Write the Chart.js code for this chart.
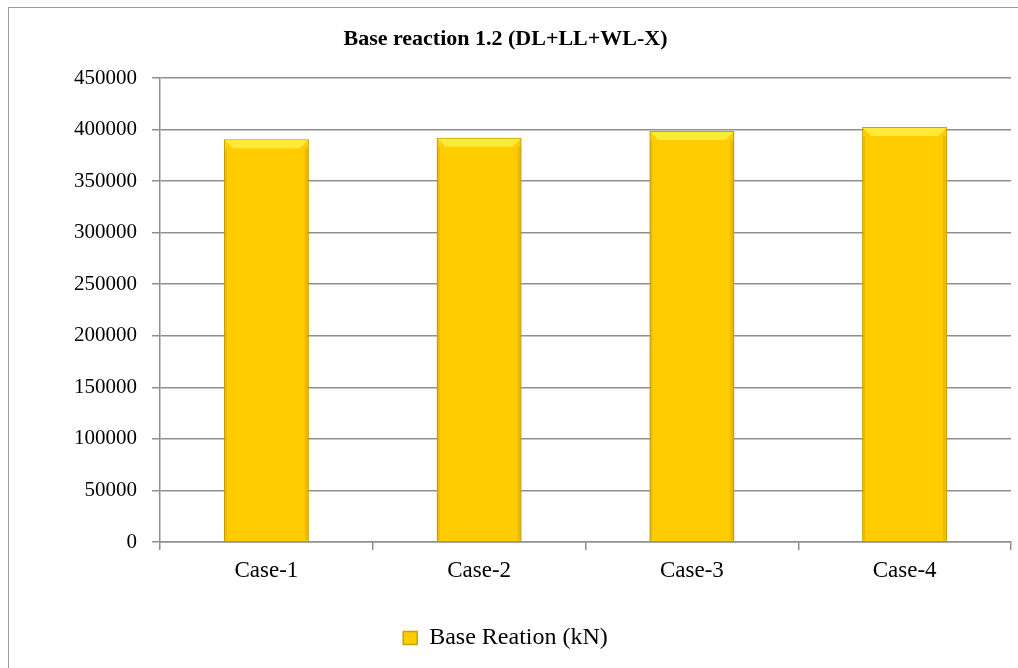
<!DOCTYPE html>
<html>
<head>
<meta charset="utf-8">
<script src="https://cdn.jsdelivr.net/npm/chart.js@4.4.0/dist/chart.umd.min.js"></script>
<style>
    html, body { margin: 0; padding: 0; background: #ffffff; }
    #wrap { position: relative; width: 1018px; height: 668px; overflow: hidden; }
    #frame {
        position: absolute; left: 8px; top: 7px;
        width: 1100px; height: 760px;
        border: 1.5px solid #9a9a9a;
    }
    #barChart { position: absolute; left: 0; top: 0; }
</style>
</head>
<body>
<div id="wrap">
    <div id="frame"></div>
    <canvas id="barChart" width="1018" height="668"></canvas>
</div>
<script>
// Chart data
const categories = ['Case-1', 'Case-2', 'Case-3', 'Case-4'];
const baseReaction = [390500, 392000, 398500, 402500];
const seriesLabel = 'Base Reation (kN)';
const chartTitle = 'Base reaction 1.2 (DL+LL+WL-X)';
const yTicks = [0, 50000, 100000, 150000, 200000, 250000, 300000, 350000, 400000, 450000];

const serif = "'Liberation Serif', 'Times New Roman', serif";
const gridGray = '#8f8f8f';

const ctx = document.getElementById('barChart');

// light bevel on top of each bar, drawn from the bar elements themselves
const bevelPlugin = {
    id: 'bevel',
    afterDatasetsDraw(chart) {
        const c = chart.ctx;
        chart.getDatasetMeta(0).data.forEach(bar => {
            const left = bar.x - bar.width / 2 + 1;
            const right = bar.x + bar.width / 2 - 1;
            const top = bar.y + 1;
            const d = 8;
            c.save();
            c.fillStyle = '#FFEA3A';
            c.beginPath();
            c.moveTo(left, top);
            c.lineTo(right, top);
            c.lineTo(right - d, top + d);
            c.lineTo(left + d, top + d);
            c.closePath();
            c.fill();
            c.fillStyle = 'rgba(170,130,0,0.25)';
            c.fillRect(right - 3, top + d, 3, bar.base - top - d - 1);
            c.fillRect(left, top + d, 2, bar.base - top - d - 1);
            c.restore();
        });
    }
};

new Chart(ctx, {
    type: 'bar',
    data: {
        labels: categories,
        datasets: [{
            label: seriesLabel,
            data: baseReaction,
            backgroundColor: '#FFCC00',
            borderColor: '#C9A200',
            borderWidth: 1.5,
            barPercentage: 0.4,
            categoryPercentage: 1
        }]
    },
    options: {
        responsive: false,
        animation: false,
        layout: { padding: { left: 0, right: 7, top: 0, bottom: 8 } },
        plugins: {
            title: {
                display: true,
                text: chartTitle,
                color: '#000',
                font: { family: serif, size: 22, weight: 'bold' },
                padding: { top: 26, bottom: 25.6 }
            },
            legend: {
                position: 'bottom',
                labels: {
                    color: '#000',
                    font: { family: serif, size: 24 },
                    boxWidth: 14,
                    boxHeight: 13,
                    padding: 10
                }
            },
            tooltip: { enabled: false }
        },
        scales: {
            y: {
                min: 0,
                max: 450000,
                afterFit: (scale) => { scale.width = 160; },
                afterBuildTicks: (scale) => { scale.ticks = yTicks.map(v => ({ value: v })); },
                border: { color: gridGray, width: 1.5 },
                grid: { color: gridGray, lineWidth: 1.5, tickLength: 8 },
                ticks: {
                    color: '#000',
                    padding: 15,
                    font: { family: serif, size: 21 },
                    callback: (v) => String(v)
                }
            },
            x: {
                afterFit: (scale) => { scale.height = 74; },
                border: { color: gridGray, width: 1.5 },
                grid: { drawOnChartArea: false, color: gridGray, lineWidth: 1.5, tickLength: 8 },
                ticks: {
                    color: '#000',
                    padding: 7,
                    font: { family: serif, size: 23 }
                }
            }
        }
    },
    plugins: [bevelPlugin]
});
</script>
</body>
</html>
